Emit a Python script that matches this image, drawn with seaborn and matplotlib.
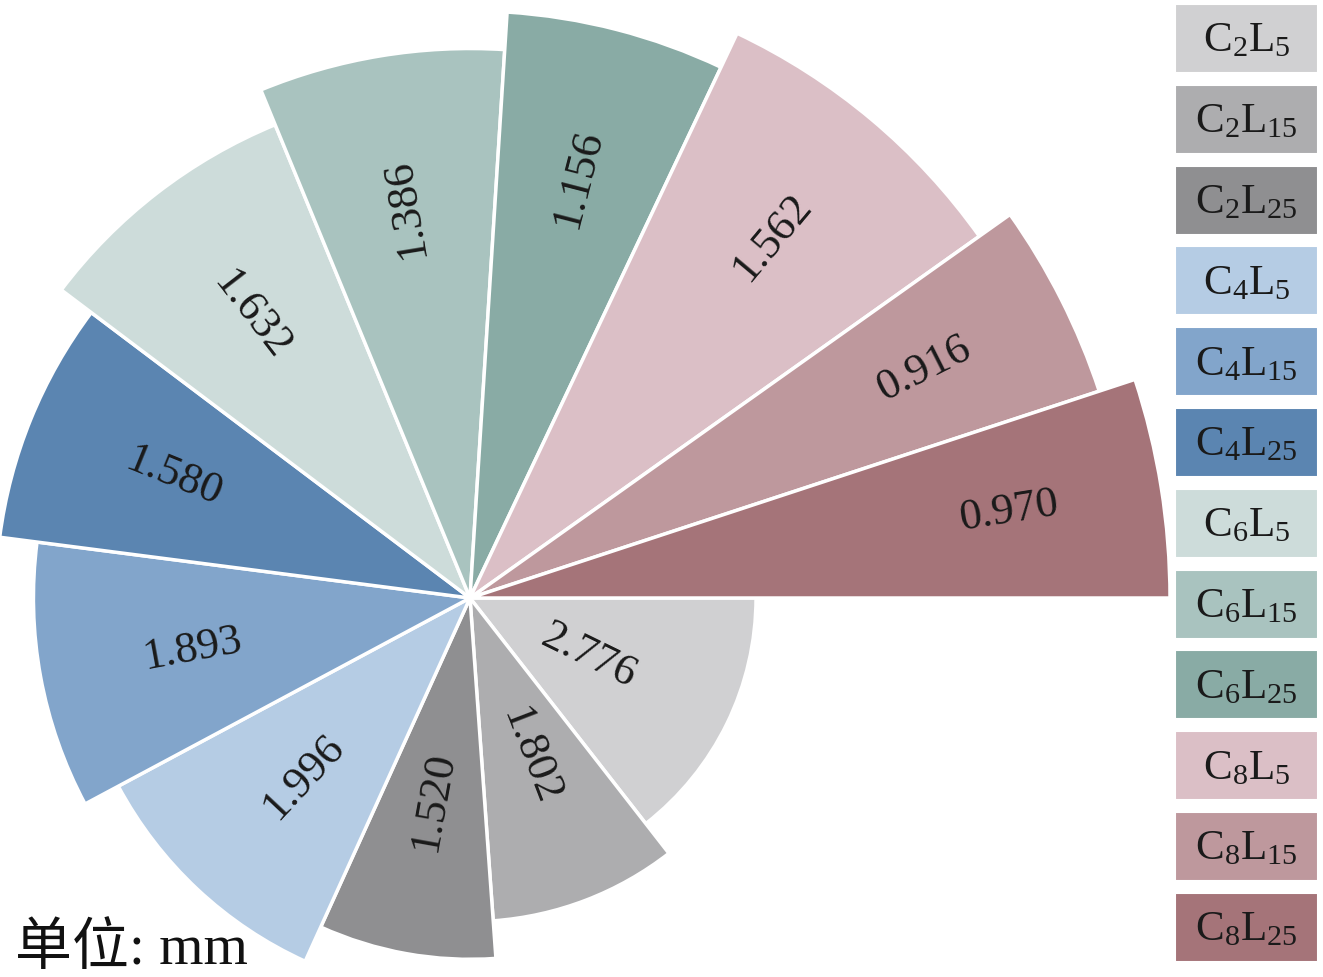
import numpy as np
import matplotlib
matplotlib.use("Agg")
import matplotlib.pyplot as plt
from matplotlib.patches import Rectangle
import seaborn as sns

# groups, from the innermost (shortest) wedge to the outermost one
groups = ['C2L5', 'C2L15', 'C2L25', 'C4L5', 'C4L15', 'C4L25',
          'C6L5', 'C6L15', 'C6L25', 'C8L5', 'C8L15', 'C8L25']
legend_labels = [r'$\mathregular{C_2L_5}$', r'$\mathregular{C_2L_{15}}$', r'$\mathregular{C_2L_{25}}$',
                 r'$\mathregular{C_4L_5}$', r'$\mathregular{C_4L_{15}}$', r'$\mathregular{C_4L_{25}}$',
                 r'$\mathregular{C_6L_5}$', r'$\mathregular{C_6L_{15}}$', r'$\mathregular{C_6L_{25}}$',
                 r'$\mathregular{C_8L_5}$', r'$\mathregular{C_8L_{15}}$', r'$\mathregular{C_8L_{25}}$']
values = [2.776, 1.802, 1.520, 1.996, 1.893, 1.580,
          1.632, 1.386, 1.156, 1.562, 0.916, 0.970]
hex_colors = ['#d0d0d2', '#adadaf', '#8f8f91',
              '#b5cce4', '#82a5cb', '#5b85b1',
              '#cddcda', '#a9c3bf', '#89aba5',
              '#dbbfc6', '#be989d', '#a57479']

sns.set_theme(style='white')
plt.rcParams['font.family'] = ['Liberation Serif', 'Noto Sans CJK SC']
plt.rcParams['mathtext.default'] = 'regular'
palette = sns.color_palette(hex_colors)

vals = np.array(values)
widths = vals / vals.sum() * 2 * np.pi       # wedge angle ~ value
lefts = np.concatenate([[0], np.cumsum(widths)[:-1]])
heights = np.arange(len(vals)) + 7.6         # spiral: each wedge a step longer
rmax = heights.max()

W, H = 1323, 977
fig = plt.figure(figsize=(W / 100, H / 100), dpi=100)

# polar axes centred at (470, 598) px, radius 700 px
cx, cy, R = 470, 598, 700
ax = fig.add_axes([(cx - R) / W, (H - cy - R) / H, 2 * R / W, 2 * R / H], projection='polar')
ax.set_theta_zero_location('E')
ax.set_theta_direction(-1)
ax.bar(lefts, heights, width=widths, align='edge', color=palette,
       edgecolor='white', linewidth=2.5, clip_on=False)
ax.set_ylim(0, rmax)
ax.set_axis_off()
ax.patch.set_alpha(0)

for left, w, h, v in zip(lefts, widths, heights, vals):
    mid = left + w / 2
    ang = -np.degrees(mid)
    ang = (ang + 180) % 360 - 180
    rot = ang if -100 < ang < 100 else ang + 180
    ax.text(mid, h - 4.1, f'{v:.3f}', rotation=rot, rotation_mode='anchor',
            ha='center', va='center', fontsize=32, color='#1a1a1a')

# legend boxes at the right
bx0, bw, bh, pitch, by0 = 1175, 143, 69, 80.8, 4
for i, (lab, col) in enumerate(zip(legend_labels, palette)):
    top = by0 + i * pitch
    fig.patches.append(Rectangle((bx0 / W, 1 - (top + bh) / H), bw / W, bh / H,
                                 transform=fig.transFigure, facecolor=col,
                                 edgecolor='white', linewidth=1.5))
    fig.text((bx0 + bw / 2) / W, 1 - (top + bh / 2 + 3) / H, lab,
             ha='center', va='center', fontsize=31, color='#1a1a1a')

fig.text(15 / W, 1 - 964 / H, '单位: mm', fontsize=41, color='#111111',
         ha='left', va='baseline')

fig.savefig('out.png', dpi=100, facecolor='white')
